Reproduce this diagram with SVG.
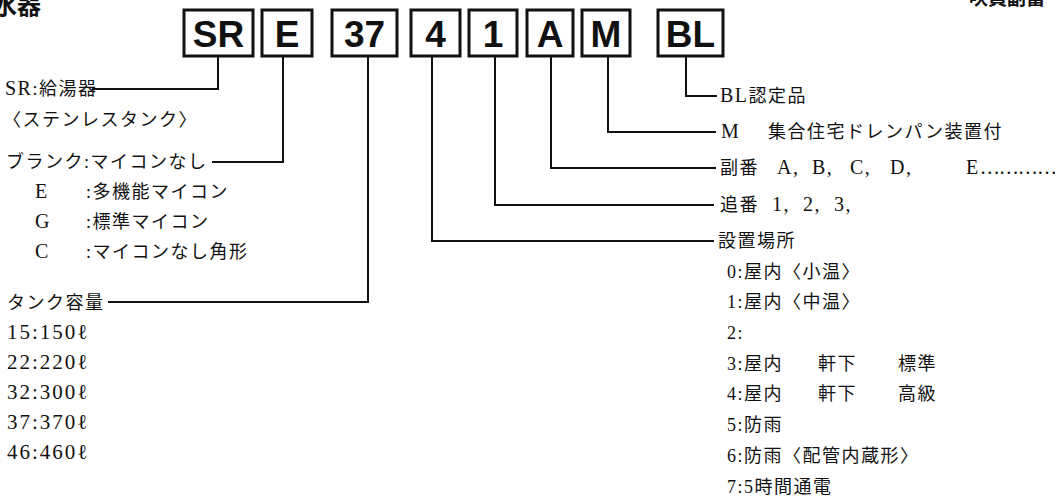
<svg xmlns="http://www.w3.org/2000/svg" width="1055" height="497" viewBox="0 0 1055 497">
<style>
.bx{fill:#fff;stroke:#111;stroke-width:3}
.bt{font-family:"Liberation Sans",Arial,sans-serif;font-weight:bold;font-size:37px;fill:#111;text-anchor:middle}
.t{font-family:"Liberation Serif","Noto Sans CJK JP",serif;font-size:18px;fill:#111;letter-spacing:1.5px}
.n{font-size:21px;letter-spacing:2px}
.l{font-size:20px}
.cn{fill:none;stroke:#111;stroke-width:2}
.hd{font-family:"Noto Sans CJK JP",sans-serif;font-weight:bold;fill:#111}
</style>
<rect width="1055" height="497" fill="#fff"/>
<text class="hd" x="41" y="14" font-size="24" text-anchor="end">温水器</text>
<text class="hd" x="1045" y="5" font-size="19" text-anchor="end" font-weight="normal">吹員副冨</text>
<g id="box-SR"><rect class="bx" x="184" y="10" width="69" height="46"/><text class="bt" x="218.5" y="46.5">SR</text></g>
<g id="box-E"><rect class="bx" x="262" y="10" width="50" height="46"/><text class="bt" x="287" y="46.5">E</text></g>
<g id="box-37"><rect class="bx" x="332" y="10" width="65" height="46"/><text class="bt" x="364.5" y="46.5">37</text></g>
<g id="box-4"><rect class="bx" x="411" y="10" width="49" height="46"/><text class="bt" x="435.5" y="46.5">4</text></g>
<g id="box-1"><rect class="bx" x="469" y="10" width="48" height="46"/><text class="bt" x="493" y="46.5">1</text></g>
<g id="box-A"><rect class="bx" x="527" y="10" width="46" height="46"/><text class="bt" x="550" y="46.5">A</text></g>
<g id="box-M"><rect class="bx" x="582" y="10" width="48" height="46"/><text class="bt" x="606" y="46.5">M</text></g>
<g id="box-BL"><rect class="bx" x="658" y="10" width="65" height="46"/><text class="bt" x="690.5" y="46.5">BL</text></g>
<g id="connectors">
<polyline class="cn" points="218,57 218,89 92,89"/>
<polyline class="cn" points="283,57 283,162 212,162"/>
<polyline class="cn" points="368,57 368,302 108,302"/>
<polyline class="cn" points="432,57 432,241 714,241"/>
<polyline class="cn" points="495,57 495,205 714,205"/>
<polyline class="cn" points="551,57 551,168 716,168"/>
<polyline class="cn" points="608,57 608,132 716,132"/>
<polyline class="cn" points="686,57 686,96 717,96"/>
</g>
<g id="left-sr">
<text class="t" y="95"><tspan x="5" class="l">SR</tspan>:給湯器</text>
<text class="t" x="3" y="126" letter-spacing="2.5">〈ステンレスタンク〉</text>
</g>
<g id="left-e">
<text class="t" x="6" y="168">ブランク:マイコンなし</text>
<text class="t" y="198"><tspan x="35" class="l">E</tspan><tspan x="86">:多機能マイコン</tspan></text>
<text class="t" y="228"><tspan x="35" class="l">G</tspan><tspan x="86">:標準マイコン</tspan></text>
<text class="t" y="258"><tspan x="35" class="l">C</tspan><tspan x="86">:マイコンなし角形</tspan></text>
</g>
<g id="left-tank">
<text class="t" x="7" y="309">タンク容量</text>
<text class="t n" x="7" y="339">15:150ℓ</text>
<text class="t n" x="7" y="369">22:220ℓ</text>
<text class="t n" x="7" y="399">32:300ℓ</text>
<text class="t n" x="7" y="429">37:370ℓ</text>
<text class="t n" x="7" y="459">46:460ℓ</text>
</g>
<g id="right-bl"><text class="t" y="102"><tspan x="720" class="l">BL</tspan>認定品</text></g>
<g id="right-m"><text class="t" y="138" letter-spacing="3"><tspan x="721" class="l">M</tspan><tspan x="768">集合住宅ドレンパン装置付</tspan></text></g>
<g id="right-a"><text class="t l" y="174"><tspan x="720" font-size="18">副番</tspan><tspan x="777">A,</tspan><tspan x="812">B,</tspan><tspan x="850">C,</tspan><tspan x="890">D,</tspan><tspan x="966">E</tspan><tspan x="980" font-size="18" letter-spacing="0" font-family="Noto Sans CJK JP, sans-serif">…………</tspan></text></g>
<g id="right-1"><text class="t" y="211"><tspan x="720">追番</tspan><tspan x="772" class="l">1,</tspan><tspan x="803" class="l">2,</tspan><tspan x="834" class="l">3,</tspan></text></g>
<g id="right-4">
<text class="t" x="718" y="247">設置場所</text>
<text class="t" x="727" y="278">0:屋内〈小温〉</text>
<text class="t" x="727" y="308">1:屋内〈中温〉</text>
<text class="t" x="727" y="339">2:</text>
<text class="t" y="370"><tspan x="727">3:屋内</tspan><tspan x="818">軒下</tspan><tspan x="898">標準</tspan></text>
<text class="t" y="400"><tspan x="727">4:屋内</tspan><tspan x="818">軒下</tspan><tspan x="898">高級</tspan></text>
<text class="t" x="727" y="431">5:防雨</text>
<text class="t" x="727" y="462">6:防雨〈配管内蔵形〉</text>
<text class="t" x="727" y="493">7:5時間通電</text>
</g>
</svg>
